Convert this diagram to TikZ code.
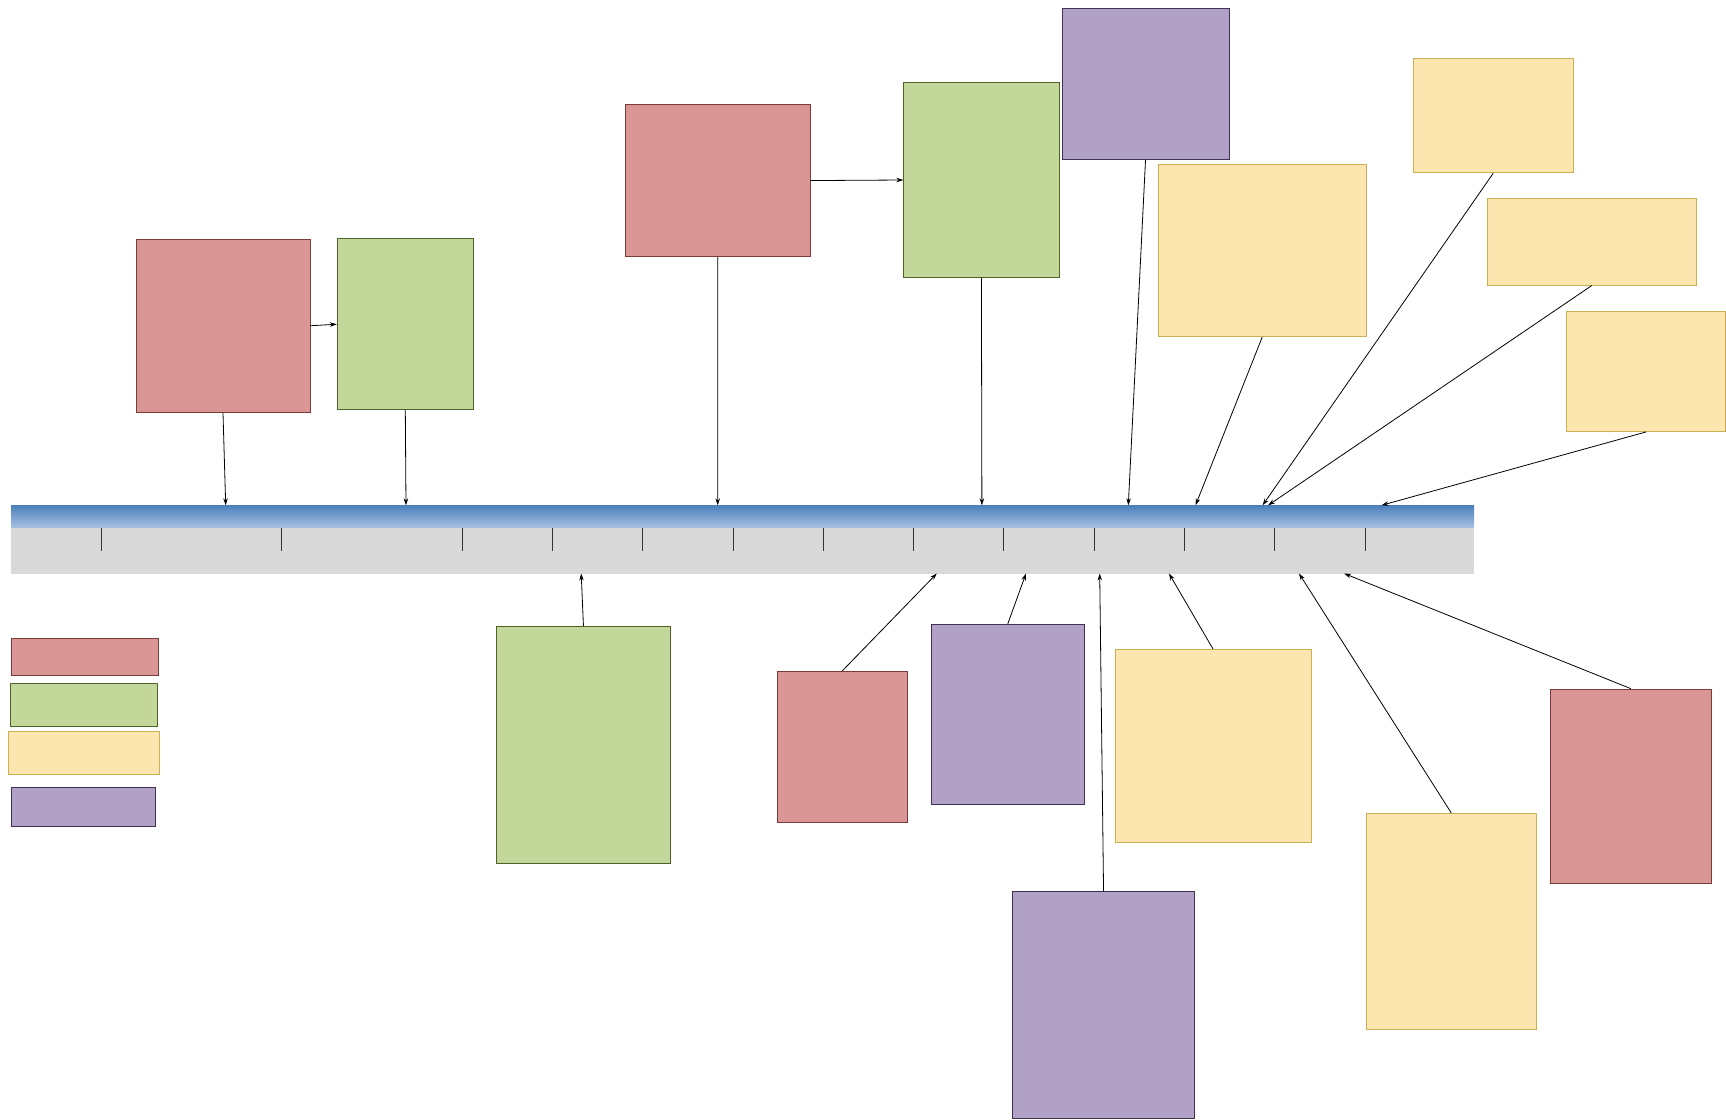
\documentclass[tikz,border=0pt]{standalone}
\usetikzlibrary{arrows.meta}
\definecolor{redF}{HTML}{DA9694}\definecolor{redD}{HTML}{7A3C3A}
\definecolor{grnF}{HTML}{C4D79B}\definecolor{grnD}{HTML}{4F6228}
\definecolor{ylwF}{HTML}{FCE5AF}\definecolor{ylwD}{HTML}{CCAE55}
\definecolor{purF}{HTML}{B2A1C7}\definecolor{purD}{HTML}{3F3151}
\definecolor{barTop}{HTML}{4A7EBB}\definecolor{barBot}{HTML}{A9C3E4}
\definecolor{barGray}{HTML}{D9D9D9}
\tikzset{
  boxbase/.style={rectangle, inner sep=0pt, line width=0.9pt},
  redbox/.style={boxbase, fill=redF, draw=redD},
  grnbox/.style={boxbase, fill=grnF, draw=grnD},
  ylwbox/.style={boxbase, fill=ylwF, draw=ylwD},
  purbox/.style={boxbase, fill=purF, draw=purD},
  conn/.style={line width=0.8pt, -{Stealth[length=7pt,width=4.5pt]}},
  tickline/.style={line width=0.9pt, black!80},
}
\newcommand\bx[6]{\node[#2, minimum width={#5pt-#3pt}, minimum height={#6pt-#4pt}] (#1) at ({(#3+#5)/2},{(#4+#6)/2}) {};}
\begin{document}
\begin{tikzpicture}[x=1pt,y=-1pt]
\useasboundingbox (0,0) rectangle (1726,1119);
% timeline bar
\node[rectangle, inner sep=0pt, minimum width=1463pt, minimum height=23pt, top color=barTop, bottom color=barBot] (blue) at (742.5,516.5) {};
\node[rectangle, inner sep=0pt, fill=barGray, minimum width=1463pt, minimum height=45.5pt] (bar) at (742.5,550.75) {};
\foreach \t in {101.3,281.8,462.3,552.6,642.9,733.1,823.4,913.7,1003.9,1094.2,1184.5,1274.7,1365}
  \draw[tickline] (\t,528) -- (\t,551);
% upper boxes
\bx{RA}{redbox}{136}{239}{310}{412.5}
\bx{GA}{grnbox}{337.3}{238.7}{473.3}{409.7}
\bx{RB}{redbox}{625.3}{104.6}{810.2}{256.5}
\bx{GB}{grnbox}{903.8}{82.6}{1059}{277.4}
\bx{PT}{purbox}{1062}{8.3}{1229}{159.7}
\bx{Y1}{ylwbox}{1158.3}{164.3}{1366}{336.8}
\bx{Y2}{ylwbox}{1413.4}{58.3}{1573}{172.8}
\bx{Y3}{ylwbox}{1487.2}{198.1}{1696.3}{285.1}
\bx{Y4}{ylwbox}{1566.4}{311.5}{1725.5}{431.5}
% lower boxes
\bx{GC}{grnbox}{496.5}{626.4}{670.4}{863}
\bx{RC}{redbox}{777.2}{671.5}{907}{822.3}
\bx{PC}{purbox}{931.3}{624.2}{1084.3}{804.7}
\bx{PD}{purbox}{1012.7}{891.6}{1194.4}{1118.4}
\bx{Y5}{ylwbox}{1115.1}{649.5}{1311}{842.1}
\bx{Y6}{ylwbox}{1366}{813.5}{1536.7}{1029.2}
\bx{RD}{redbox}{1550}{689.1}{1711.7}{883.9}
% legend
\bx{LR}{redbox}{11.3}{638.3}{158.3}{675.7}
\bx{LG}{grnbox}{10}{683}{157.7}{726.3}
\bx{LY}{ylwbox}{8.3}{731.7}{159.3}{774.7}
\bx{LP}{purbox}{11.3}{787}{155}{826.3}
% arrow targets on the bar
\coordinate (aRA) at (225.7,505.3);
\coordinate (aGA) at (406,505.3);
\coordinate (aRB) at (717.7,505.3);
\coordinate (aGB) at (981.9,505.3);
\coordinate (aPT) at (1128.3,505.3);
\coordinate (aY1) at (1195.5,505.3);
\coordinate (aY2) at (1262.6,505.3);
\coordinate (aY3) at (1268.1,505.3);
\coordinate (aY4) at (1381.5,505.3);
\coordinate (aGC) at (581.2,573.5);
\coordinate (aRC) at (936.8,573.5);
\coordinate (aPC) at (1026,573.5);
\coordinate (aPD) at (1099.7,573.5);
\coordinate (aY5) at (1169,573.5);
\coordinate (aY6) at (1299,573.5);
\coordinate (aRD) at (1344.1,573.5);
% connectors
\draw[conn] (RA.east) -- (GA.west);
\draw[conn] (RB.east) -- (GB.west);
\foreach \n in {RA,GA,RB,GB,PT,Y1,Y2,Y3,Y4}
  \draw[conn] (\n.south) -- (a\n);
\foreach \n in {GC,RC,PC,PD,Y5,Y6,RD}
  \draw[conn] (\n.north) -- (a\n);
\end{tikzpicture}
\end{document}
